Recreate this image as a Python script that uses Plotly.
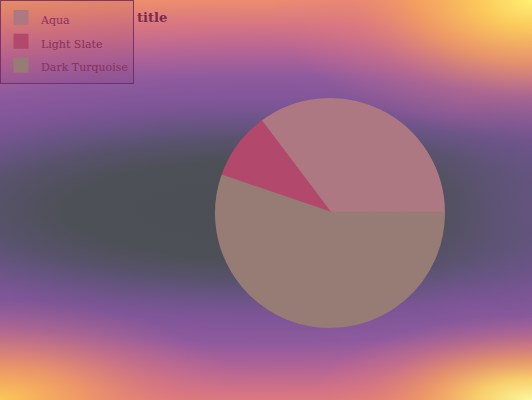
import base64
import plotly.graph_objects as go

# ---- data ----
labels = ["Aqua", "Light Slate", "Dark Turquoise"]
values = [35.3, 9.5, 55.2]
slice_colors = ["#ad7882", "#b2486c", "#977c76"]
title_text = "title"

W, H = 532, 400


# ---- background decoration: layered SVG gradients ----
def radial(gid, cx, cy, rx, ry, stops):
    s = "".join(
        f'<stop offset="{o}" stop-color="rgb{c}" stop-opacity="{a}"/>' for o, c, a in stops
    )
    return (
        f'<radialGradient id="{gid}" gradientUnits="userSpaceOnUse" cx="{cx}" cy="{cy}" r="{ry}" '
        f'gradientTransform="translate({cx} {cy}) scale({rx / ry} 1) translate({-cx} {-cy})">{s}</radialGradient>'
    )


base_stops = [
    (0.00, (76, 78, 84), 1), (0.20, (78, 80, 88), 1), (0.28, (88, 82, 108), 1),
    (0.34, (103, 84, 130), 1), (0.42, (125, 85, 150), 1), (0.53, (142, 90, 158), 1),
    (0.63, (178, 100, 150), 1), (0.73, (212, 115, 132), 1), (0.83, (234, 138, 112), 1),
    (0.92, (245, 165, 95), 1), (1.00, (252, 215, 110), 1),
]
bl_stops = [(0, (252, 200, 85), 1), (0.35, (245, 160, 95), 0.75), (0.7, (225, 125, 120), 0.35), (1, (210, 115, 135), 0)]
br_stops = [(0, (250, 248, 160), 1), (0.25, (252, 215, 105), 0.9), (0.5, (245, 165, 92), 0.65),
            (0.75, (230, 130, 115), 0.3), (1, (220, 120, 130), 0)]
tr_stops = [(0, (255, 240, 115), 1), (0.2, (252, 205, 90), 0.95), (0.45, (247, 165, 92), 0.7),
            (0.7, (225, 125, 125), 0.35), (1, (215, 115, 135), 0)]
rm_stops = [(0, (105, 85, 135), 0.7), (1, (105, 85, 135), 0)]

defs = (
    radial("base", 262, 210, 1000, 250, base_stops)
    + radial("bl", 0, 400, 240, 100, bl_stops)
    + radial("br", 532, 400, 220, 85, br_stops)
    + radial("tr", 532, 0, 260, 140, tr_stops)
    + radial("rm", 532, 205, 120, 120, rm_stops)
)
rects = "".join(
    f'<rect x="0" y="0" width="{W}" height="{H}" fill="url(#{g})"/>' for g in ["base", "bl", "br", "tr", "rm"]
)
svg = (
    f'<svg xmlns="http://www.w3.org/2000/svg" width="{W}" height="{H}" viewBox="0 0 {W} {H}" '
    f'preserveAspectRatio="none"><defs>{defs}</defs>{rects}</svg>'
)
bg_uri = "data:image/svg+xml;base64," + base64.b64encode(svg.encode()).decode()

legend_labels = [f"<span style='font-size:11px'>{l}</span>" for l in labels]

fig = go.Figure()
fig.add_trace(go.Pie(
    labels=legend_labels,
    values=values,
    sort=False,
    direction="counterclockwise",
    rotation=-37,
    textinfo="none",
    hovertemplate="%{label}: %{value}<extra></extra>",
    marker=dict(colors=slice_colors, line=dict(color=slice_colors, width=3)),
    domain=dict(x=[0.3947, 0.8459], y=[0.18375, 0.75125]),
))

fig.update_layout(
    width=W, height=H,
    margin=dict(l=0, r=0, t=0, b=0, autoexpand=False),
    paper_bgcolor="#5a5060",
    plot_bgcolor="rgba(0,0,0,0)",
    images=[dict(source=bg_uri, xref="paper", yref="paper", x=0, y=1,
                 sizex=1, sizey=1, sizing="stretch", layer="below")],
    title=dict(text=f"<b>{title_text}</b>", x=137 / W, xref="container", xanchor="left",
               y=1 - 17 / H, yref="container", yanchor="middle",
               font=dict(family="DejaVu Serif", size=13, color="#7a2a50")),
    legend=dict(x=0, y=1.001, xref="paper", yref="paper", xanchor="left", yanchor="top",
                bgcolor="rgba(90,30,80,0.08)", bordercolor="rgba(110,40,100,0.85)", borderwidth=1,
                font=dict(family="DejaVu Serif", size=16, color="#86305c")),
    showlegend=True,
)

fig.write_html("out.html")
